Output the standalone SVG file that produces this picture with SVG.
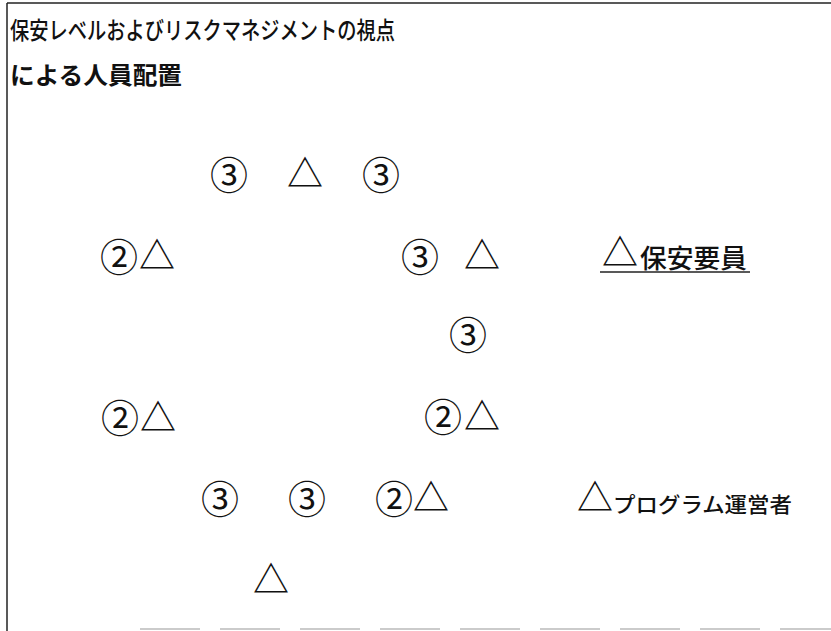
<svg xmlns="http://www.w3.org/2000/svg" width="831" height="631" viewBox="0 0 831 631">
<style>
text{font-family:"Noto Sans CJK JP","Noto Sans CJK SC",sans-serif;fill:#111}
.c{font-size:38px;text-anchor:middle}
.t{font-size:36px;text-anchor:middle;font-weight:500}
.title{font-size:24px;font-weight:500}
.sub{font-size:24px;font-weight:bold}
.leg1{font-size:26px;font-weight:500}
.leg2{font-size:21px;font-weight:500}
</style>
<rect width="831" height="631" fill="#fff"/>
<g id="frame" fill="none">
<line x1="7" y1="3" x2="831" y2="3" stroke="#222" stroke-width="1.5"/>
<line x1="7" y1="3" x2="7" y2="631" stroke="#222" stroke-width="1.5"/>
<line x1="140" y1="629" x2="831" y2="629" stroke="#bbb" stroke-width="1.5" stroke-dasharray="60 20"/>
</g>
<g id="title">
<text class="title" x="10" y="39" textLength="385" lengthAdjust="spacingAndGlyphs">保安レベルおよびリスクマネジメントの視点</text>
<text class="sub" x="10" y="84" textLength="172" lengthAdjust="spacingAndGlyphs">による人員配置</text>
</g>
<g id="n1"><text class="c" x="229" y="189">③</text></g>
<g id="n2"><text class="t" x="305" y="187">△</text></g>
<g id="n3"><text class="c" x="381" y="189">③</text></g>
<g id="n4"><text class="c" x="119" y="271">②</text><text class="t" x="157" y="269">△</text></g>
<g id="n5"><text class="c" x="420" y="271">③</text></g>
<g id="n6"><text class="t" x="482" y="269">△</text></g>
<g id="n7"><text class="c" x="468" y="349">③</text></g>
<g id="n8"><text class="c" x="120" y="432">②</text><text class="t" x="158" y="431">△</text></g>
<g id="n9"><text class="c" x="443" y="431">②</text><text class="t" x="482" y="430">△</text></g>
<g id="n10"><text class="c" x="220" y="513">③</text></g>
<g id="n11"><text class="c" x="307" y="513">③</text></g>
<g id="n12"><text class="c" x="394" y="513">②</text><text class="t" x="431" y="511">△</text></g>
<g id="n13"><text class="t" x="271" y="593">△</text></g>
<g id="legend-security">
<text class="t" x="620" y="266">△</text>
<text class="leg1" x="640" y="268" textLength="107" lengthAdjust="spacingAndGlyphs">保安要員</text>
<line x1="600" y1="272" x2="750" y2="272" stroke="#222" stroke-width="1.5"/>
</g>
<g id="legend-operator">
<text class="t" x="595" y="511">△</text>
<text class="leg2" x="613" y="512" textLength="179" lengthAdjust="spacingAndGlyphs">プログラム運営者</text>
</g>
</svg>
